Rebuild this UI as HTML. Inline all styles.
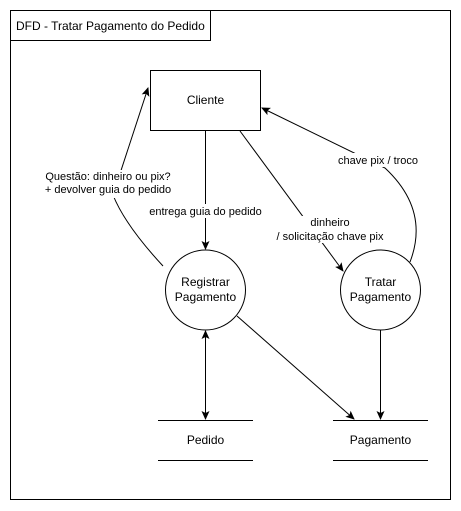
<!DOCTYPE html>
<html><head><meta charset="utf-8"><style>
html,body{margin:0;padding:0;background:#fff;}
svg{display:block;}
text{font-family:"Liberation Sans",Arial,sans-serif;font-size:11px;fill:#000;}
</style></head><body>
<svg width="461" height="511" viewBox="0 0 461 511" xmlns="http://www.w3.org/2000/svg">
<defs><marker id="a" markerWidth="10" markerHeight="10" refX="8" refY="5" orient="auto" markerUnits="userSpaceOnUse"><path d="M0,1 L9,5 L0,9 L2,5 Z" fill="#000"/></marker></defs>
<rect x="10.5" y="10.5" width="440" height="489" fill="#fff" stroke="#000"/>
<rect x="10.5" y="10.5" width="200" height="30" fill="#fff" stroke="#000"/>
<text x="16" y="30" style="font-size:12px">DFD - Tratar Pagamento do Pedido</text>
<rect x="150.5" y="70.5" width="110" height="60" fill="#fff" stroke="#000"/>
<text x="205.5" y="104" text-anchor="middle" style="font-size:12px">Cliente</text>
<circle cx="205.5" cy="290" r="40" fill="#fff" stroke="#000"/>
<text x="205.5" y="286" text-anchor="middle" style="font-size:12px">Registrar</text>
<text x="205.5" y="301" text-anchor="middle" style="font-size:12px">Pagamento</text>
<circle cx="380.5" cy="290" r="40" fill="#fff" stroke="#000"/>
<text x="380.5" y="286" text-anchor="middle" style="font-size:12px">Tratar</text>
<text x="380.5" y="301" text-anchor="middle" style="font-size:12px">Pagamento</text>
<line x1="158" y1="420.5" x2="253" y2="420.5" stroke="#000"/>
<line x1="158" y1="460.5" x2="253" y2="460.5" stroke="#000"/>
<text x="205.5" y="444" text-anchor="middle" style="font-size:12px">Pedido</text>
<line x1="333" y1="420.5" x2="428" y2="420.5" stroke="#000"/>
<line x1="333" y1="460.5" x2="428" y2="460.5" stroke="#000"/>
<text x="380.5" y="444" text-anchor="middle" style="font-size:12px">Pagamento</text>
<g fill="none" stroke="#000" stroke-width="1">
<line x1="205.5" y1="130" x2="205.5" y2="249" marker-end="url(#a)"/>
<path d="M163,266 Q125,225 113,195 L148,88" marker-end="url(#a)"/>
<path d="M240,131 L343,271" marker-end="url(#a)"/>
<path d="M410,262 Q430,210 385,168 L262,108" marker-end="url(#a)"/>
<line x1="237" y1="316" x2="354" y2="419" marker-end="url(#a)"/>
<line x1="380.5" y1="330" x2="380.5" y2="419" marker-end="url(#a)"/>
<line x1="205.5" y1="340" x2="205.5" y2="410"/>
<line x1="205.5" y1="345" x2="205.5" y2="419" marker-end="url(#a)"/>
<line x1="205.5" y1="400" x2="205.5" y2="331" marker-end="url(#a)"/>
</g>
<rect x="148" y="204" width="115" height="14" fill="#fff"/>
<text x="205.5" y="215" text-anchor="middle">entrega guia do pedido</text>
<rect x="45" y="170" width="125" height="28" fill="#fff"/>
<text x="108" y="180" text-anchor="middle">Questão: dinheiro ou pix?</text>
<text x="108" y="193" text-anchor="middle">+ devolver guia do pedido</text>
<rect x="290" y="216" width="80" height="27" fill="#fff"/>
<text x="330" y="226" text-anchor="middle">dinheiro</text>
<text x="330" y="240" text-anchor="middle">/ solicitação chave pix</text>
<rect x="337" y="153" width="82" height="14" fill="#fff"/>
<text x="378" y="164" text-anchor="middle">chave pix / troco</text>
</svg>
</body></html>
